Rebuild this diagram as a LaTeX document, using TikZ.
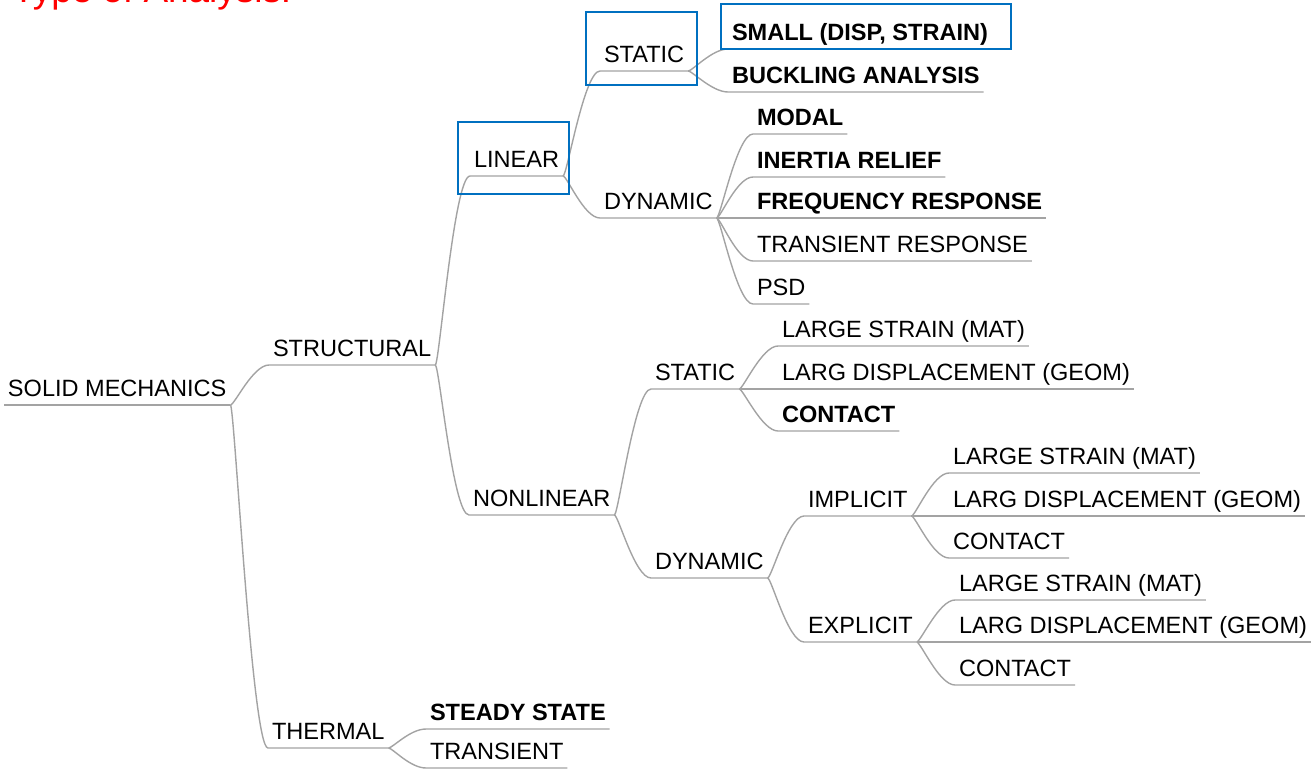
\documentclass[tikz,border=0pt]{standalone}
\usepackage{fontspec}
\setmainfont{Liberation Sans}
\usetikzlibrary{positioning}
\definecolor{markblue}{HTML}{0070C0}

\begin{document}
\begin{tikzpicture}[x=0.02cm, y=-0.02cm, topic/.style={anchor=south west, inner sep=0pt, outer xsep=0.08cm, outer ysep=0.17cm, text depth=0pt, text=black, font=\fontsize{13.4}{16}\selectfont}, key/.style={topic, font=\fontsize{13.4}{16}\selectfont\bfseries}, link/.style={draw=black!36, line width=0.8pt}, branch/.style={link, to path={.. controls +(4,0) and +(-16,0) .. (\tikztotarget)}}, mark box/.style={draw=markblue, line width=1.4pt}]
  \useasboundingbox (0,0) rectangle (1312,771);
  \node[anchor=base west, inner sep=0pt, text=red, font=\fontsize{21}{24}\selectfont] (title) at (12,2) {Type of Analysis:};

  % tree
  \node[topic] (root) at (4,405) {SOLID MECHANICS};
  \node[topic] (struct) at (269,365) {STRUCTURAL};
  \node[topic] (therm) at (268,748) {THERMAL};
  \node[topic] (lin) at (470,176) {LINEAR};
  \node[topic] (nonlin) at (469,515) {NONLINEAR};
  \node[topic] (lstat) at (600,71) {STATIC};
  \node[topic] (ldyn) at (600,218) {DYNAMIC};
  \node[key] (small) at (728,49) {SMALL (DISP, STRAIN)};
  \node[key] (buck) at (728,92) {BUCKLING ANALYSIS};
  \node[key] (modal) at (753,134) {MODAL};
  \node[key] (inert) at (753,177) {INERTIA RELIEF};
  \node[key] (freq) at (753,218) {FREQUENCY RESPONSE};
  \node[topic] (trans) at (753,261) {TRANSIENT RESPONSE};
  \node[topic] (psd) at (753,304) {PSD};
  \node[topic] (nstat) at (651,389) {STATIC};
  \node[topic] (ndyn) at (651,578) {DYNAMIC};
  \node[topic] (nls) at (778,346) {LARGE STRAIN (MAT)};
  \node[topic] (nld) at (778,389) {LARG DISPLACEMENT (GEOM)};
  \node[key] (ncon) at (778,431) {CONTACT};
  \node[topic] (impl) at (804,516) {IMPLICIT};
  \node[topic] (expl) at (804,642) {EXPLICIT};
  \node[topic] (ils) at (949,473) {LARGE STRAIN (MAT)};
  \node[topic] (ild) at (949,516) {LARG DISPLACEMENT (GEOM)};
  \node[topic] (icon) at (949,558) {CONTACT};
  \node[topic] (els) at (955,600) {LARGE STRAIN (MAT)};
  \node[topic] (eld) at (955,642) {LARG DISPLACEMENT (GEOM)};
  \node[topic] (econ) at (955,685) {CONTACT};
  \node[key] (steady) at (426,729) {STEADY STATE};
  \node[topic] (transient) at (426,768) {TRANSIENT};

  % branches, each with the underline of its child
  \draw[link] (root.south west) -- (root.south east);
  \draw[branch] (root.south east) to (struct.south west) -- (struct.south east);
  \draw[branch] (root.south east) to (therm.south west) -- (therm.south east);
  \draw[branch] (struct.south east) to (lin.south west) -- (lin.south east);
  \draw[branch] (struct.south east) to (nonlin.south west) -- (nonlin.south east);
  \draw[branch] (lin.south east) to (lstat.south west) -- (lstat.south east);
  \draw[branch] (lin.south east) to (ldyn.south west) -- (ldyn.south east);
  \draw[branch] (lstat.south east) to (small.south west) -- (small.south east);
  \draw[branch] (lstat.south east) to (buck.south west) -- (buck.south east);
  \draw[branch] (ldyn.south east) to (modal.south west) -- (modal.south east);
  \draw[branch] (ldyn.south east) to (inert.south west) -- (inert.south east);
  \draw[branch] (ldyn.south east) to (freq.south west) -- (freq.south east);
  \draw[branch] (ldyn.south east) to (trans.south west) -- (trans.south east);
  \draw[branch] (ldyn.south east) to (psd.south west) -- (psd.south east);
  \draw[branch] (nonlin.south east) to (nstat.south west) -- (nstat.south east);
  \draw[branch] (nonlin.south east) to (ndyn.south west) -- (ndyn.south east);
  \draw[branch] (nstat.south east) to (nls.south west) -- (nls.south east);
  \draw[branch] (nstat.south east) to (nld.south west) -- (nld.south east);
  \draw[branch] (nstat.south east) to (ncon.south west) -- (ncon.south east);
  \draw[branch] (ndyn.south east) to (impl.south west) -- (impl.south east);
  \draw[branch] (ndyn.south east) to (expl.south west) -- (expl.south east);
  \draw[branch] (impl.south east) to (ils.south west) -- (ils.south east);
  \draw[branch] (impl.south east) to (ild.south west) -- (ild.south east);
  \draw[branch] (impl.south east) to (icon.south west) -- (icon.south east);
  \draw[branch] (expl.south east) to (els.south west) -- (els.south east);
  \draw[branch] (expl.south east) to (eld.south west) -- (eld.south east);
  \draw[branch] (expl.south east) to (econ.south west) -- (econ.south east);
  \draw[branch] (therm.south east) to (steady.south west) -- (steady.south east);
  \draw[branch] (therm.south east) to (transient.south west) -- (transient.south east);

  % highlight boxes
  \draw[mark box] (458,122) rectangle (569,194);
  \draw[mark box] (586,12) rectangle (697,85);
  \draw[mark box] (721,4) rectangle (1011,49);
\end{tikzpicture}
\end{document}
